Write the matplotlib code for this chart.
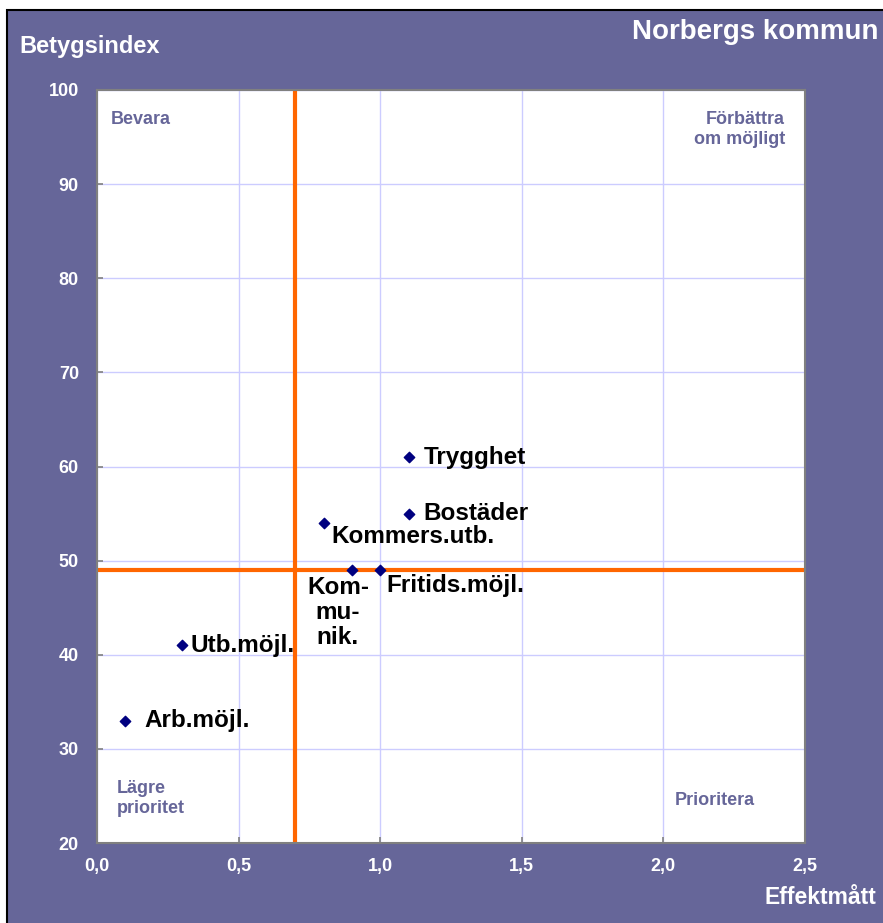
import matplotlib
matplotlib.use("Agg")
import matplotlib.pyplot as plt
from matplotlib.patches import Rectangle

plt.rcParams['font.family'] = ['Liberation Sans', 'DejaVu Sans']

# data
labels = ['Trygghet', 'Bostäder', 'Kommers.utb.', 'Kom-\nmu-\nnik.',
          'Fritids.möjl.', 'Utb.möjl.', 'Arb.möjl.']
effekt = [1.1, 1.1, 0.8, 0.9, 1.0, 0.3, 0.1]
betyg = [61, 55, 54, 49, 49, 41, 33]
x_mean = 0.7
y_mean = 49
xticks = [0.0, 0.5, 1.0, 1.5, 2.0, 2.5]
yticks = [20, 30, 40, 50, 60, 70, 80, 90, 100]

# label placement (offset in pixels, alignment)
offsets = [
    ((15, 0), 'left', 'center'),
    ((15, 0), 'left', 'center'),
    ((8, -14), 'left', 'center'),
    ((-14, -6), 'center', 'top'),
    ((6, -15), 'left', 'center'),
    ((9, 0), 'left', 'center'),
    ((19, 0), 'left', 'center'),
]

purple = '#666699'
W, H = 883, 923
fig = plt.figure(figsize=(W / 100, H / 100), dpi=100, facecolor='white')
fig.patches.append(Rectangle((7 / W, -0.01), 1.0, 1 - 10 / H + 0.01,
                             transform=fig.transFigure, facecolor=purple,
                             edgecolor='black', linewidth=1.5, zorder=-1))

ax = fig.add_axes([97 / W, 80 / H, 708 / W, 753 / H])
ax.set_zorder(1)
ax.set_facecolor('white')
ax.set_xlim(0, 2.5)
ax.set_ylim(20, 100)
ax.set_xticks(xticks)
ax.set_yticks(yticks)
ax.set_xticklabels([f'{v:.1f}'.replace('.', ',') for v in xticks])
ax.set_yticklabels([str(v) for v in yticks])
ax.tick_params(colors='#808080', labelcolor='white', labelsize=13, length=4,
               direction='in', width=1.2)
for lab in ax.get_xticklabels() + ax.get_yticklabels():
    lab.set_fontweight('bold')
ax.tick_params(axis='x', pad=11)
ax.tick_params(axis='y', pad=13)
ax.grid(True, color='#ccccff', linewidth=1)
ax.set_axisbelow(True)
for s in ax.spines.values():
    s.set_color('#808080')
    s.set_linewidth(1.5)

ax.axvline(x_mean, color='#ff6600', linewidth=3, zorder=2)
ax.axhline(y_mean, color='#ff6600', linewidth=3, zorder=2)

ax.scatter(effekt, betyg, marker='D', s=28, color='#000080', zorder=3)
for lab, x, y, (off, ha, va) in zip(labels, effekt, betyg, offsets):
    ax.annotate(lab, (x, y), xytext=off, textcoords='offset pixels',
                ha=ha, va=va, fontsize=17.5, fontweight='bold', color='black',
                linespacing=1.1, zorder=4)

# quadrant labels
qkw = dict(color=purple, fontsize=13, fontweight='bold', transform=ax.transAxes)
ax.text(0.02, 0.972, 'Bevara', ha='left', va='top', **qkw)
ax.text(0.972, 0.972, 'Förbättra\nom möjligt', ha='right', va='top', **qkw)
ax.text(0.028, 0.035, 'Lägre\nprioritet', ha='left', va='bottom', **qkw)
ax.text(0.816, 0.045, 'Prioritera', ha='left', va='bottom', **qkw)

fig.text(19 / W, 1 - 47 / H, 'Betygsindex', color='white', fontsize=17,
         fontweight='bold', ha='left', va='center')
fig.text(878 / W, 1 - 32 / H, 'Norbergs kommun', color='white', fontsize=20,
         fontweight='bold', ha='right', va='center')
fig.text(876 / W, 1 - 897 / H, 'Effektmått', color='white', fontsize=16.5,
         fontweight='bold', ha='right', va='center')

fig.savefig('out.png', dpi=100, facecolor=fig.get_facecolor())
